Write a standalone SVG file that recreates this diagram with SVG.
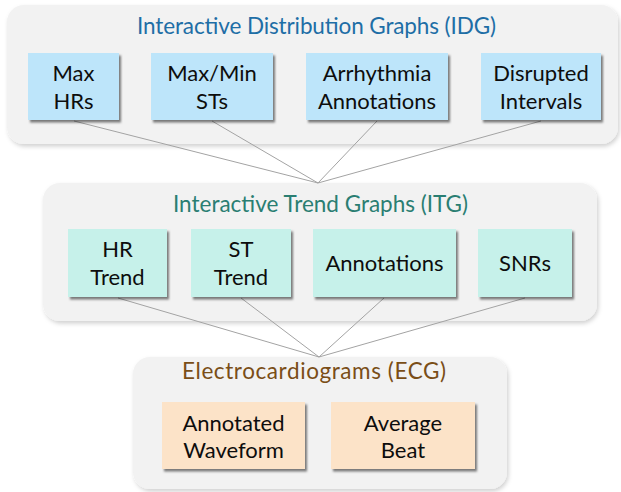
<svg xmlns="http://www.w3.org/2000/svg" width="621" height="492" viewBox="0 0 621 492">
  <defs>
    <filter id="panelShadow" x="-10%" y="-10%" width="125%" height="130%">
      <feDropShadow dx="1.5" dy="2.5" stdDeviation="2" flood-color="#000" flood-opacity="0.18"/>
    </filter>
    <filter id="boxShadow" x="-10%" y="-10%" width="130%" height="140%">
      <feDropShadow dx="2" dy="2.5" stdDeviation="1.3" flood-color="#000" flood-opacity="0.5"/>
    </filter>
  </defs>
  <style>
    .panel { fill: #F2F2F2; filter: url(#panelShadow); }
    .box { filter: url(#boxShadow); }
    .idg { fill: #BDE5FA; }
    .itg { fill: #C6F1EA; }
    .ecg { fill: #FCE3C8; }
    text { font-family: Lato, "Open Sans", "Liberation Sans", sans-serif; text-anchor: middle; }
    .label { font-size: 22px; fill: #0D0D0D; }
    .title { font-size: 22.5px; }
    .t-idg { fill: #1E6EA6; }
    .t-itg { fill: #2A7E72; }
    .t-ecg { fill: #7A4E17; }
    .conn { stroke: #A3A3A3; stroke-width: 1; fill: none; }
  </style>

  <g id="panel-idg">
    <rect class="panel" x="7" y="5" width="611" height="139" rx="17"/>
    <text class="title t-idg" x="316.5" y="34" textLength="359" lengthAdjust="spacing">Interactive Distribution Graphs (IDG)</text>
  </g>
  <g id="panel-itg">
    <rect class="panel" x="43" y="183" width="554" height="138" rx="17"/>
    <text class="title t-itg" x="320.5" y="212" textLength="295" lengthAdjust="spacing">Interactive Trend Graphs (ITG)</text>
  </g>
  <g id="panel-ecg">
    <rect class="panel" x="133" y="357" width="374" height="132" rx="17"/>
    <text class="title t-ecg" x="314" y="379" textLength="264" lengthAdjust="spacing">Electrocardiograms (ECG)</text>
  </g>

  <g id="connectors">
    <line class="conn" x1="74" y1="121" x2="318" y2="183"/>
    <line class="conn" x1="212" y1="121" x2="318" y2="183"/>
    <line class="conn" x1="377" y1="121" x2="318" y2="183"/>
    <line class="conn" x1="541" y1="121" x2="318" y2="183"/>
    <line class="conn" x1="118" y1="298" x2="319" y2="357"/>
    <line class="conn" x1="241" y1="298" x2="319" y2="357"/>
    <line class="conn" x1="384" y1="298" x2="319" y2="357"/>
    <line class="conn" x1="525" y1="298" x2="319" y2="357"/>
  </g>

  <g id="max-hrs">
    <rect class="box idg" x="28" y="53" width="91" height="67"/>
    <text class="label" x="73.5" y="81">Max</text>
    <text class="label" x="73.5" y="109">HRs</text>
  </g>
  <g id="max-min-sts">
    <rect class="box idg" x="151" y="53" width="122" height="67"/>
    <text class="label" x="212" y="81">Max/Min</text>
    <text class="label" x="212" y="109">STs</text>
  </g>
  <g id="arrhythmia-annotations">
    <rect class="box idg" x="306" y="53" width="142" height="67"/>
    <text class="label" x="377" y="81">Arrhythmia</text>
    <text class="label" x="377" y="109">Annotations</text>
  </g>
  <g id="disrupted-intervals">
    <rect class="box idg" x="481" y="53" width="120" height="67"/>
    <text class="label" x="541" y="81">Disrupted</text>
    <text class="label" x="541" y="109">Intervals</text>
  </g>

  <g id="hr-trend">
    <rect class="box itg" x="68" y="229" width="99" height="68"/>
    <text class="label" x="117.5" y="257">HR</text>
    <text class="label" x="117.5" y="285">Trend</text>
  </g>
  <g id="st-trend">
    <rect class="box itg" x="191" y="229" width="100" height="68"/>
    <text class="label" x="241" y="257">ST</text>
    <text class="label" x="241" y="285">Trend</text>
  </g>
  <g id="annotations">
    <rect class="box itg" x="313" y="229" width="143" height="68"/>
    <text class="label" x="384.5" y="271">Annotations</text>
  </g>
  <g id="snrs">
    <rect class="box itg" x="478" y="229" width="94" height="68"/>
    <text class="label" x="525" y="271">SNRs</text>
  </g>

  <g id="annotated-waveform">
    <rect class="box ecg" x="162" y="402" width="143" height="67"/>
    <text class="label" x="233.5" y="431">Annotated</text>
    <text class="label" x="233.5" y="458">Waveform</text>
  </g>
  <g id="average-beat">
    <rect class="box ecg" x="331" y="402" width="144" height="67"/>
    <text class="label" x="403" y="431">Average</text>
    <text class="label" x="403" y="458">Beat</text>
  </g>
</svg>
